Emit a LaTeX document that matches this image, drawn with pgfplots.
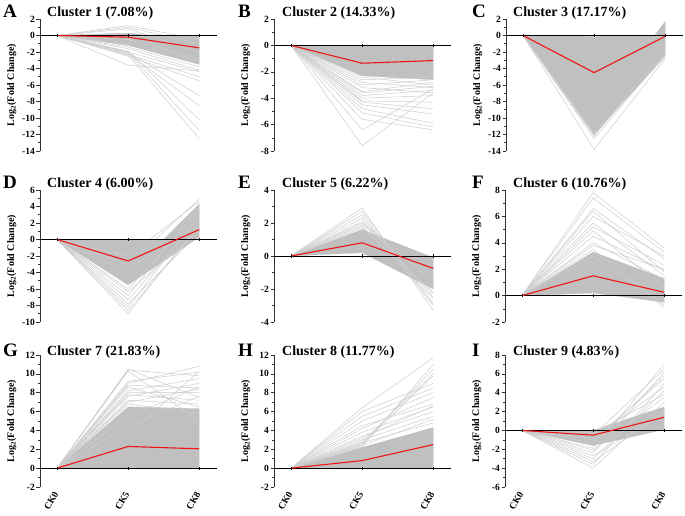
\documentclass[border=0pt]{standalone}
\usepackage{pgfplots}
\pgfplotsset{compat=1.18}
\usepackage{fontspec}
\setmainfont{Liberation Serif}
\definecolor{gfill}{RGB}{192,192,192}
\definecolor{gline}{RGB}{204,204,204}
\definecolor{mred}{RGB}{240,20,20}
\newcommand{\gl}[2]{\addplot[gline, line width=0.5pt] coordinates {(0,0) (1,#1) (2,#2)};}
\newcommand{\zl}{\addplot[black, line width=0.8pt] coordinates {(-0.24,0) (2.25,0)};
  \addplot[black, only marks, mark=|, mark size=1.6pt, mark options={line width=0.6pt}] coordinates {(0,0) (1,0) (2,0)};}
\newcommand{\ml}[2]{\addplot[mred, line width=1.1pt] coordinates {(0,0) (1,#1) (2,#2)};}
\pgfplotsset{
  panel/.style={scale only axis, width=177pt, height=132pt,
    xmin=-0.24, xmax=2.25, anchor=south west,
    axis y line*=left, axis x line*=bottom,
    x axis line style={draw=none}, major x tick style={draw=none},
    xtick={0,1,2}, xticklabels={},
    y axis line style={line width=0.8pt, black!80},
    tick align=outside, minor y tick num=1,
    major tick length=3.5pt, minor tick length=2pt,
    ytick style={black!80, line width=0.6pt},
    /pgf/number format/assume math mode=true,
    yticklabel style={font=\fontsize{9.5}{11}\selectfont\bfseries, inner sep=1.5pt},
    ylabel={Log\textsubscript{2}(Fold Change)},
    every axis y label/.style={at={(axis description cs:-0.16,0.5)}, rotate=90, anchor=center, font=\fontsize{10}{12}\selectfont\bfseries},
  },
  bottomrow/.style={xticklabels={CK0,CK5,CK8}, xticklabel style={rotate=60, anchor=east, inner sep=2pt, font=\fontsize{9.5}{10}\selectfont\bfseries}},
}
\newcommand{\ttl}[4]{\node[anchor=base west, font=\fontsize{19}{20}\selectfont\bfseries, inner sep=0pt] at (#1pt,-#3pt) {#4};}
\newcommand{\ctl}[3]{\node[anchor=base west, font=\fontsize{14}{16}\selectfont\bfseries, inner sep=0pt] at (#1pt,-#2pt) {#3};}
\begin{document}
\begin{tikzpicture}
\useasboundingbox (0,0) rectangle (685pt,-515pt);
% ---------------- A
\begin{axis}[panel, at={(40pt,-151pt)}, ymin=-14, ymax=2, ytick={-14,-12,...,2}]
\addplot[fill=gfill, draw=gfill, line width=0.3pt] coordinates {(0,0) (1,0.3) (1.3,0) (2,0) (2,-3.5) (1,-1.2) (0,0)};
\gl{1.2}{-0.5}\gl{1.0}{-1}\gl{0.8}{-2}\gl{0.2}{-3.2}\gl{-0.5}{-2.8}\gl{-1}{-3}\gl{-1.4}{-3.8}
\gl{-1.6}{-4.2}\gl{-2}{-4.4}\gl{-2.3}{-5}\gl{-2.5}{-5.5}\gl{-3.6}{-4.3}
\gl{-2.0}{-7.3}\gl{-2.2}{-8.5}\gl{-1.9}{-10.2}\gl{-2.1}{-11.5}\gl{-2.4}{-12.5}
\zl
\ml{-0.2}{-1.5}
\end{axis}
% ---------------- B
\begin{axis}[panel, at={(274pt,-151pt)}, ymin=-8, ymax=2, ytick={-8,-6,...,2}]
\addplot[fill=gfill, draw=gfill, line width=0.3pt] coordinates {(0,0) (1,0) (2,0) (2,-2.6) (1,-2.3) (0,0)};
\gl{-7.6}{-3.6}\gl{-6.4}{-3.3}\gl{-5.6}{-6.4}\gl{-5.1}{-6.2}\gl{-4.8}{-5.9}\gl{-4.5}{-5.2}
\gl{-4.3}{-4.8}\gl{-4.2}{-4.3}\gl{-4.0}{-3.8}\gl{-3.8}{-3.4}\gl{-3.6}{-3.1}\gl{-3.5}{-2.8}
\gl{-3.2}{-3.6}\gl{-3.0}{-2.6}\gl{-2.8}{-3.2}\gl{-2.6}{-2.4}\gl{-2.4}{-3.0}
\zl
\ml{-1.35}{-1.15}
\end{axis}
% ---------------- C
\begin{axis}[panel, at={(506pt,-151pt)}, ymin=-14, ymax=2, ytick={-14,-12,...,2}]
\addplot[fill=gfill, draw=gfill, line width=0.3pt] coordinates {(0,0) (1,-0.1) (1.85,0) (2,1.7) (2,-2.4) (1,-12.0) (0,0)};
\gl{-13.8}{-2.8}\gl{-12.5}{-2.2}\gl{-12.2}{-1.6}\gl{-11.8}{-2.6}
\zl
\ml{-4.5}{-0.1}
\end{axis}
% ---------------- D
\begin{axis}[panel, at={(40pt,-322pt)}, ymin=-10, ymax=6, ytick={-10,-8,...,6}]
\addplot[fill=gfill, draw=gfill, line width=0.3pt] coordinates {(0,0) (1,0) (1.5,0) (2,4.3) (2,0.3) (1,-5.5) (0,0)};
\gl{-9}{2}\gl{-8.6}{1.5}\gl{-8.2}{3}\gl{-7.8}{0.8}\gl{-7.3}{2.5}\gl{-6.8}{4}\gl{-6.3}{1}
\gl{-6.0}{3.4}\gl{-3}{4.9}\gl{-2}{4.6}\gl{-4}{3.8}
\zl
\ml{-2.6}{1.2}
\end{axis}
% ---------------- E
\begin{axis}[panel, at={(274pt,-322pt)}, ymin=-4, ymax=4, ytick={-4,-2,...,4}]
\addplot[fill=gfill, draw=gfill, line width=0.3pt] coordinates {(0,0) (1,1.6) (2,-0.1) (2,-2.0) (1,0.2) (0,0)};
\gl{2.9}{-3.3}\gl{2.7}{-2.9}\gl{2.5}{-3.0}\gl{2.3}{-2.5}\gl{2.1}{-2.3}\gl{1.9}{-1.5}
\gl{1.8}{-2.6}\gl{2.0}{-1.2}\gl{1.7}{-2.2}
\zl
\ml{0.8}{-0.75}
\end{axis}
% ---------------- F
\begin{axis}[panel, at={(505pt,-322pt)}, ymin=-2, ymax=8, ytick={-2,0,...,8}]
\addplot[fill=gfill, draw=gfill, line width=0.3pt] coordinates {(0,0) (1,3.3) (2,1.3) (2,-0.5) (1,0.2) (0,0)};
\gl{7.8}{3.6}\gl{7.4}{3.3}\gl{6.6}{2.8}\gl{6.4}{1.8}\gl{6.0}{3.0}\gl{5.5}{1.5}\gl{5.2}{2.3}
\gl{4.9}{0.6}\gl{4.5}{1.9}\gl{4.0}{1.2}\gl{3.8}{2.0}\gl{3.5}{-0.9}\gl{3.0}{-0.7}
\zl
\ml{1.5}{0.25}
\end{axis}
% ---------------- G
\begin{axis}[panel, bottomrow, at={(40pt,-487pt)}, ymin=-2, ymax=12, ytick={-2,0,...,12}]
\addplot[fill=gfill, draw=gfill, line width=0.3pt] coordinates {(0,0) (1,6.5) (2,6.3) (2,0) (1,0) (0,0)};
\gl{10.5}{7.5}\gl{10.3}{5}\gl{10.4}{9.8}\gl{9.2}{10.2}\gl{9.0}{10.8}\gl{8.8}{8.5}\gl{8.6}{6.5}
\gl{8.2}{9.5}\gl{8.0}{8}\gl{7.8}{7.2}\gl{7.6}{9}\gl{7.2}{6.8}\gl{7.0}{8.4}\gl{6.8}{5.8}
\gl{5.5}{8.6}\gl{4.5}{7.6}\gl{3.5}{10.3}
\zl
\ml{2.3}{2.05}
\end{axis}
% ---------------- H
\begin{axis}[panel, bottomrow, at={(274pt,-487pt)}, ymin=-2, ymax=12, ytick={-2,0,...,12}]
\addplot[fill=gfill, draw=gfill, line width=0.3pt] coordinates {(0,0) (1,2.2) (2,4.3) (2,0) (1,0) (0,0)};
\gl{6.4}{11.7}\gl{6.0}{9}\gl{5.5}{8.5}\gl{5.0}{8}\gl{4.5}{6.8}\gl{4.2}{7.5}\gl{3.8}{6.5}
\gl{3.4}{6.0}\gl{3.0}{5.5}\gl{2.8}{10}\gl{2.6}{10.5}\gl{2.5}{9.8}\gl{2.3}{11}\gl{2.7}{4.8}
\gl{2.4}{5.2}\gl{3.2}{6.6}
\zl
\ml{0.8}{2.5}
\end{axis}
% ---------------- I
\begin{axis}[panel, bottomrow, at={(505pt,-487pt)}, ymin=-6, ymax=8, ytick={-6,-4,...,8}]
\addplot[fill=gfill, draw=gfill, line width=0.3pt] coordinates {(0,0) (1,0) (2,2.5) (2,0.1) (1,-1.6) (0,0)};
\gl{-4}{3}\gl{-3.6}{5}\gl{-3.3}{2}\gl{-3.0}{4.2}\gl{-2.7}{1.8}\gl{-2.4}{6.2}\gl{-2.1}{3.5}
\gl{-1.9}{7}\gl{-1.0}{5.5}\gl{-0.5}{6.5}\gl{-0.8}{4.6}\gl{-0.3}{3.8}\gl{-1.3}{5.8}
\zl
\ml{-0.5}{1.4}
\end{axis}
% ---------------- titles
\ttl{3}{}{17}{A}\ctl{47}{16}{Cluster 1 (7.08\%)}
\ttl{238}{}{17}{B}\ctl{282}{16}{Cluster 2 (14.33\%)}
\ttl{472}{}{17}{C}\ctl{513}{16}{Cluster 3 (17.17\%)}
\ttl{3}{}{188}{D}\ctl{47}{187}{Cluster 4 (6.00\%)}
\ttl{238}{}{188}{E}\ctl{282}{187}{Cluster 5 (6.22\%)}
\ttl{472}{}{188}{F}\ctl{513}{187}{Cluster 6 (10.76\%)}
\ttl{3}{}{356}{G}\ctl{47}{355}{Cluster 7 (21.83\%)}
\ttl{238}{}{356}{H}\ctl{282}{355}{Cluster 8 (11.77\%)}
\ttl{472}{}{356}{I}\ctl{513}{355}{Cluster 9 (4.83\%)}
\end{tikzpicture}
\end{document}
